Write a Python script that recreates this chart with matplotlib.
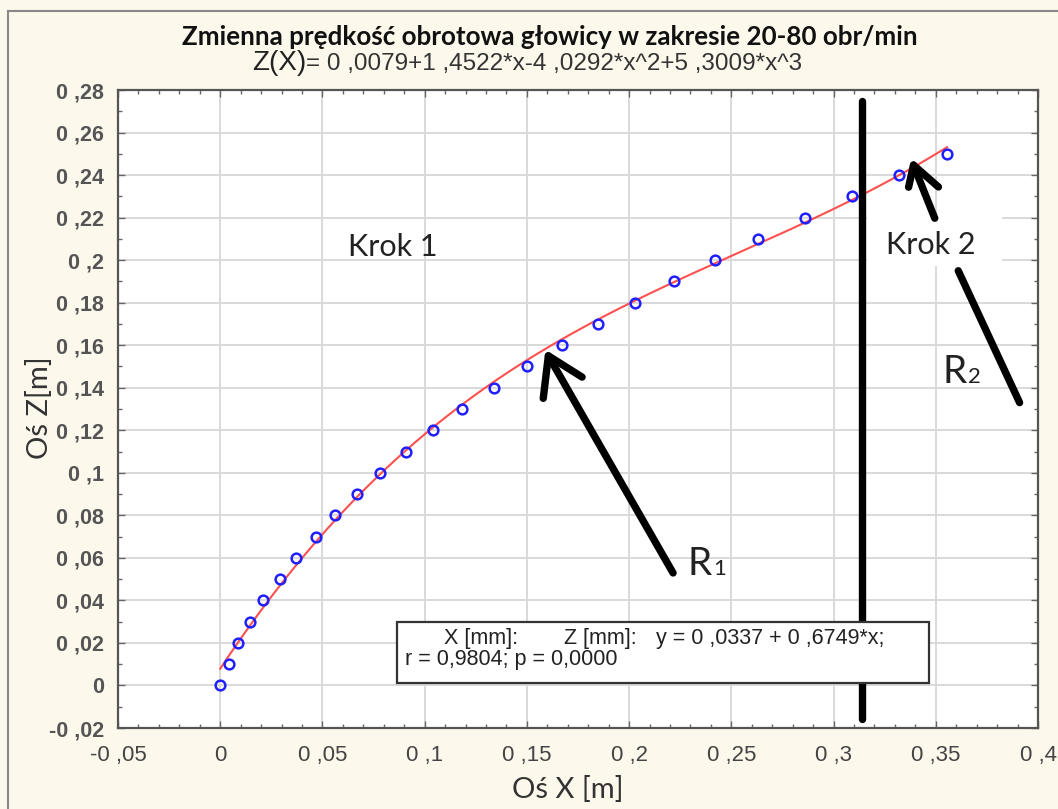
import numpy as np
import matplotlib
matplotlib.use("Agg")
import matplotlib.pyplot as plt
from matplotlib.patches import Rectangle
from matplotlib.ticker import MultipleLocator, FixedLocator, FixedFormatter

# ---- data ----
x_data = [0.0, 0.0044, 0.0088, 0.0147, 0.021, 0.029, 0.037, 0.047, 0.056, 0.067,
          0.078, 0.091, 0.104, 0.1185, 0.134, 0.150, 0.167, 0.185, 0.203, 0.222,
          0.242, 0.263, 0.286, 0.309, 0.332, 0.3555]
z_data = [0.00, 0.01, 0.02, 0.03, 0.04, 0.05, 0.06, 0.07, 0.08, 0.09,
          0.10, 0.11, 0.12, 0.13, 0.14, 0.15, 0.16, 0.17, 0.18, 0.19,
          0.20, 0.21, 0.22, 0.23, 0.24, 0.25]
fit_coeffs = [0.0079, 1.4522, -4.0292, 5.3009]   # Z(X) = a0 + a1 x + a2 x^2 + a3 x^3

x_ticks = [-0.05, 0, 0.05, 0.1, 0.15, 0.2, 0.25, 0.3, 0.35, 0.4]
x_ticklabels = ["-0 ,05", "0", "0 ,05", "0 ,1", "0 ,15", "0 ,2", "0 ,25", "0 ,3", "0 ,35", "0 ,4"]
y_ticks = [-0.02, 0, 0.02, 0.04, 0.06, 0.08, 0.1, 0.12, 0.14, 0.16, 0.18, 0.2, 0.22, 0.24, 0.26, 0.28]
y_ticklabels = ["-0 ,02", "0", "0 ,02", "0 ,04", "0 ,06", "0 ,08", "0 ,1", "0 ,12", "0 ,14",
                "0 ,16", "0 ,18", "0 ,2", "0 ,22", "0 ,24", "0 ,26", "0 ,28"]

title = "Zmienna prędkość obrotowa głowicy w zakresie 20-80 obr/min"
subtitle_a = "Z(X)"
subtitle_b = "= 0 ,0079+1 ,4522*x-4 ,0292*x^2+5 ,3009*x^3"
legend_line1a = "X [mm]:"
legend_line1b = "Z [mm]:"
legend_line1c = "y = 0 ,0337 + 0 ,6749*x;"
legend_line2 = "r = 0,9804; p = 0,0000"

# hand-drawn annotations (data coordinates)
divider_x = 0.314
divider_y = (-0.016, 0.275)
r1_shaft = ([0.2215, 0.1605], [0.0529, 0.155])
r1_barbs = ([0.158, 0.1605, 0.177], [0.135, 0.155, 0.145])
r2_line = ([0.361, 0.391], [0.195, 0.133])
k2_shaft = ([0.3495, 0.3391], [0.2197, 0.2447])
k2_barbs = ([0.3367, 0.3391, 0.3513], [0.2343, 0.2447, 0.2344])

# ---- figure ----
BG = "#fdf8ec"
fig = plt.figure(figsize=(10.58, 8.09), dpi=100, facecolor=BG)
ax = fig.add_axes([118/1058, 1-728/809, 920/1058, 638/809])
ax.set_facecolor("white")

ax.set_xlim(-0.05, 0.4)
ax.set_ylim(-0.02, 0.28)

# grid
ax.grid(True, which="major", color="#d9d9d9", linewidth=1.4, zorder=0)
ax.set_axisbelow(True)

# ticks
ax.xaxis.set_major_locator(FixedLocator(x_ticks))
ax.xaxis.set_major_formatter(FixedFormatter(x_ticklabels))
ax.yaxis.set_major_locator(FixedLocator(y_ticks))
ax.yaxis.set_major_formatter(FixedFormatter(y_ticklabels))
ax.xaxis.set_minor_locator(MultipleLocator(0.01))
ax.yaxis.set_minor_locator(MultipleLocator(0.01))
ax.tick_params(which="both", direction="in", top=True, right=True, color="#666666")
ax.tick_params(which="major", length=5, width=1)
ax.tick_params(which="minor", length=3, width=1)
ax.tick_params(axis="y", pad=10, labelsize=15.5, labelcolor="#555555")
ax.tick_params(axis="x", pad=12, labelsize=16, labelcolor="#444444")
for lab in ax.get_yticklabels():
    lab.set_fontfamily(["Liberation Sans", "DejaVu Sans"])
    lab.set_fontweight("bold")
for lab in ax.get_xticklabels():
    lab.set_fontfamily(["Liberation Sans", "DejaVu Sans"])
for s in ax.spines.values():
    s.set_color("#555555")
    s.set_linewidth(1.6)

# Krok 2 white patch (covers grid)
ax.add_patch(Rectangle((0.3165, 0.1972), 0.066, 0.025, facecolor="white",
                       edgecolor="none", zorder=1))

# data + fit
xf = np.linspace(0, max(x_data), 300)
zf = np.polyval(fit_coeffs[::-1], xf)
ax.plot(xf, zf, color="#ff5050", linewidth=1.5, zorder=3)
ax.plot(x_data, z_data, linestyle="none", marker="o", markersize=7,
        markerfacecolor="none", markeredgecolor="#2020ff", markeredgewidth=1.8, zorder=4)

# annotations
lw = 5.3
ax.plot([divider_x, divider_x], divider_y, color="black", linewidth=lw, solid_capstyle="round", zorder=5)
ax.plot(*r1_shaft, color="black", linewidth=lw, solid_capstyle="round", zorder=5)
ax.plot(*r1_barbs, color="black", linewidth=lw, solid_capstyle="round", solid_joinstyle="round", zorder=5)
ax.plot(*r2_line, color="black", linewidth=lw, solid_capstyle="round", zorder=5)
ax.plot(*k2_shaft, color="black", linewidth=lw, solid_capstyle="round", zorder=5)
ax.plot(*k2_barbs, color="black", linewidth=lw, solid_capstyle="round", solid_joinstyle="round", zorder=5)

txtfont = ["Lato", "DejaVu Sans"]
ax.text(0.0845, 0.2060, "Krok 1", fontsize=22, family=txtfont, color="#222222",
        ha="center", va="center", zorder=6)
ax.text(0.3475, 0.2070, "Krok 2", fontsize=22, family=txtfont, color="#222222",
        ha="center", va="center", zorder=6)
ax.text(0.2285, 0.052, "R", fontsize=28, family=txtfont, color="#222222",
        ha="left", va="baseline", zorder=6)
ax.text(0.2410, 0.052, "1", fontsize=16, family=txtfont, color="#222222",
        ha="left", va="baseline", zorder=6)
ax.text(0.3535, 0.1422, "R", fontsize=28, family=txtfont, color="#222222",
        ha="left", va="baseline", zorder=6)
ax.text(0.3660, 0.1422, "2", fontsize=16, family=txtfont, color="#222222",
        ha="left", va="baseline", zorder=6)

# regression legend box
ax.add_patch(Rectangle((0.0866, 0.0012), 0.2603, 0.0287, facecolor="white",
                       edgecolor="#333333", linewidth=1.6, zorder=7))
lf = ["Liberation Sans", "DejaVu Sans"]
ax.text(0.1095, 0.0223, legend_line1a, fontsize=15.5, family=lf, color="#222222", va="center", zorder=8)
ax.text(0.168, 0.0223, legend_line1b, fontsize=15.5, family=lf, color="#222222", va="center", zorder=8)
ax.text(0.213, 0.0223, legend_line1c, fontsize=15.5, family=lf, color="#222222", va="center", zorder=8)
ax.text(0.0905, 0.0120, legend_line2, fontsize=15.5, family=lf, color="#222222", va="center", zorder=8)

# axis labels
ax.set_xlabel("Oś X [m]", fontsize=21, family=txtfont, color="#333333")
ax.set_ylabel("Oś Z[m]", fontsize=21, family=txtfont, color="#333333")
ax.xaxis.set_label_coords((568 - 118) / 920, -(790 - 728) / 638)
ax.yaxis.set_label_coords(-(118 - 40) / 920, (728 - 408) / 638)
ax.xaxis.label.set_verticalalignment("center")
ax.yaxis.label.set_verticalalignment("center")

# titles
fig.text(550/1058, 1-37/809, title, fontsize=18.7, fontweight="bold", family=txtfont,
         color="#111111", ha="center", va="center")
fig.text(252/1058, 1-63/809, subtitle_a, fontsize=20, family=["Liberation Sans", "DejaVu Sans"],
         color="#222222", ha="left", va="center")
fig.text(306/1058, 1-64/809, subtitle_b, fontsize=17.5, family=["Liberation Sans", "DejaVu Sans"],
         color="#333333", ha="left", va="center")

# figure border (left/top visible)
fig.add_artist(plt.Line2D([8/1058, 8/1058], [0, 1-11/809], transform=fig.transFigure,
                          color="#888888", linewidth=1.5))
fig.add_artist(plt.Line2D([8/1058, 1], [1-11/809, 1-11/809], transform=fig.transFigure,
                          color="#888888", linewidth=1.5))

fig.savefig("out.png", dpi=100, facecolor=BG)
